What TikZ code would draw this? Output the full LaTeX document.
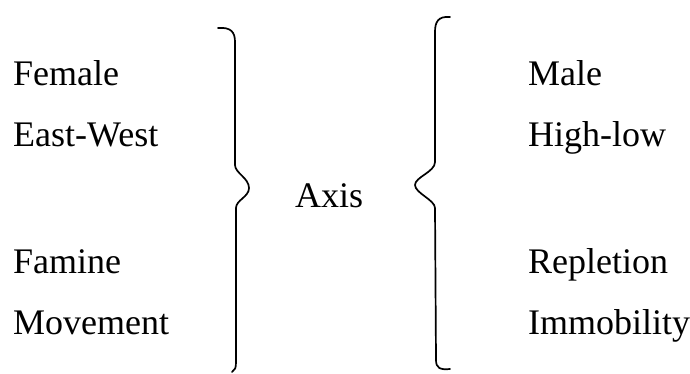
\documentclass[tikz,border=0pt]{standalone}
\usepackage{fontspec}
\setmainfont{Liberation Serif}
\begin{document}
\begin{tikzpicture}[x=1pt,y=-1pt,
  lbl/.style={anchor=base west,inner sep=0pt,font=\fontsize{36}{40}\selectfont},
  bracestroke/.style={line width=1.7pt,line cap=round,line join=round}]
\useasboundingbox (0,0) rectangle (690,373);
\fill[white] (0,0) rectangle (690,373);
% left column
\node[lbl] (female) at (13,85) {Female};
\node[lbl] (eastwest) at (13,146) {East-West};
\node[lbl] (famine) at (13,273) {Famine};
\node[lbl] (movement) at (13,334) {Movement};
% centre
\node[lbl] (axis) at (295,207) {Axis};
% right column
\node[lbl] (male) at (528,85) {Male};
\node[lbl] (highlow) at (528,146) {High-low};
\node[lbl] (repletion) at (528,273) {Repletion};
\node[lbl] (immobility) at (528,334) {Immobility};
% right-pointing brace
\draw[bracestroke] (218,28) .. controls (231,27) and (235,32) .. (235,42)
  -- (235,165) .. controls (235,173) and (249,178) .. (249,188)
  .. controls (249,197) and (236,200) .. (236,208)
  -- (236,362) .. controls (236,368) and (235,370) .. (232,372);
% left-pointing brace
\draw[bracestroke] (450,17) .. controls (438,16) and (435,22) .. (435,32)
  -- (435,162) .. controls (435,172) and (415,177) .. (415,185)
  .. controls (415,193) and (435,200) .. (435,208)
  -- (436,360) .. controls (436,368) and (440,370) .. (450,369);
\end{tikzpicture}
\end{document}
